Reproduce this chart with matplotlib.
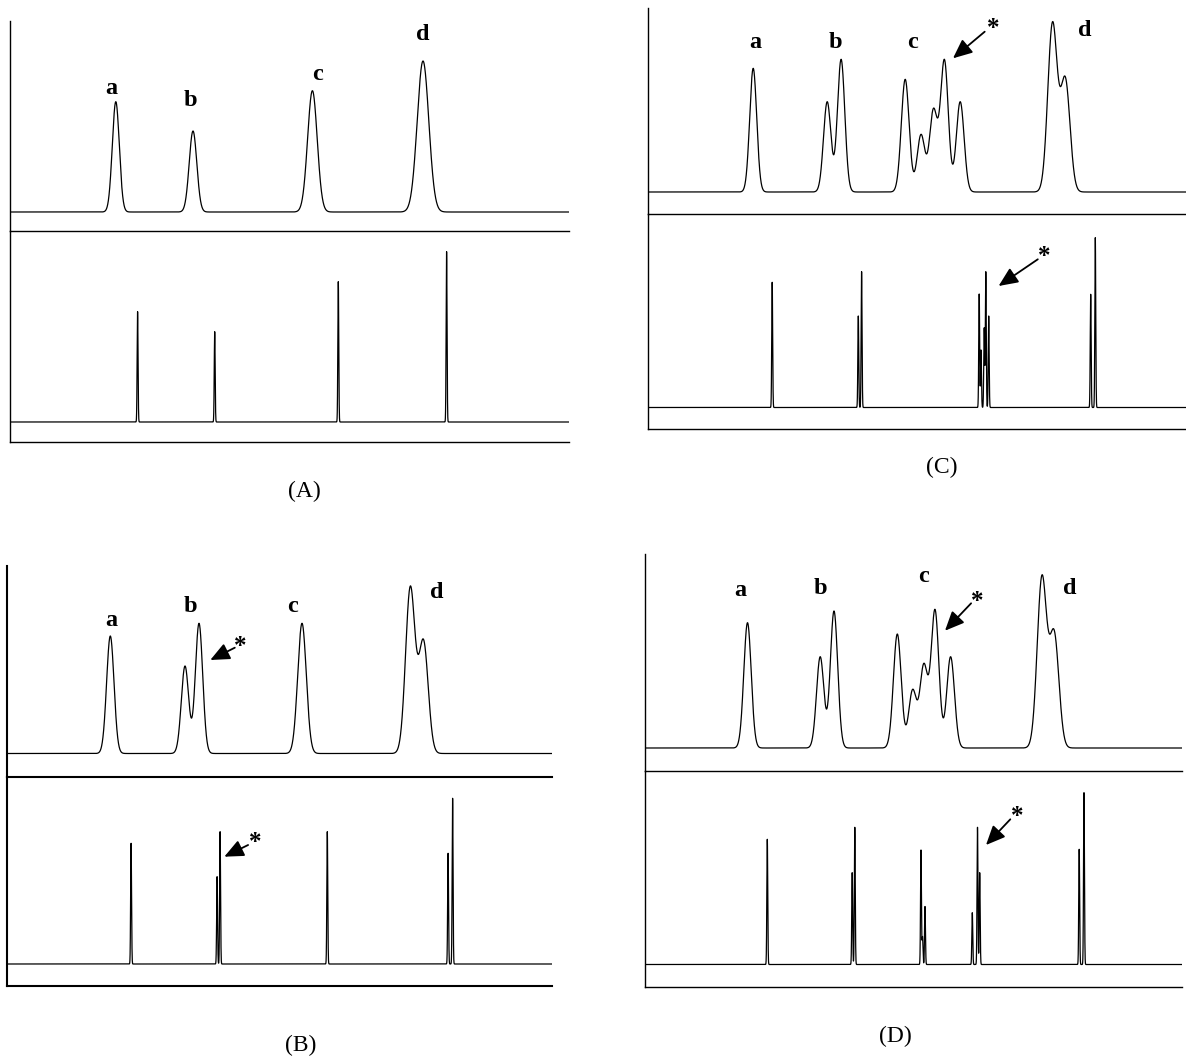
import numpy as np
import matplotlib
matplotlib.use("Agg")
import matplotlib.pyplot as plt

# ---------------- data (x = position from the left axis, y = height above baseline) ------------
# panel A
A_top_pos = [105.8, 183.0, 302.4, 413.0]
A_top_height = [110.3, 81.0, 121.3, 151.0]
A_top_width = [3.5, 3.8, 4.8, 5.8]
A_stick_pos = [127.6, 204.7, 328.3, 436.6]
A_stick_height = [110.3, 90.3, 140.3, 170.3]
A_labels = ['a', 'b', 'c', 'd']
A_label_x = [101.7, 180.0, 307.7, 413.0]
A_label_y = [124.0, 111.0, 137.0, 177.0]

# panel B
B_top_pos = [103.0, 177.7, 191.7, 294.7, 403.0, 416.2]
B_top_height = [117.5, 87.5, 130.2, 130.2, 167.5, 114.2]
B_top_width = [3.7, 3.7, 3.7, 4.3, 4.7, 4.7]
B_stick_pos = [123.8, 209.8, 212.8, 320.0, 440.8, 445.3]
B_stick_height = [120.7, 87.3, 132.3, 132.3, 110.7, 165.7]
B_labels = ['a', 'b', 'c', 'd']
B_label_x = [103.7, 183.4, 285.3, 429.4]
B_label_y = [133.5, 146.8, 146.8, 160.8]

# panel C
C_top_pos = [105.5, 179.5, 193.4, 257.5, 273.3, 285.7, 296.7, 312.5, 404.8, 417.6]
C_top_height = [123.7, 90.3, 132.7, 112.7, 57.7, 83.7, 132.7, 90.3, 170.3, 115.3]
C_top_width = [3.5, 3.7, 3.7, 3.9, 3.9, 3.9, 3.9, 3.9, 4.7, 4.7]
C_stick_pos = [124.5, 210.6, 213.9, 331.5, 333.3, 336.5, 338.1, 341.0, 443.0, 447.6]
C_stick_height = [125.2, 91.5, 135.8, 113.5, 57.5, 79.8, 135.8, 91.5, 113.2, 169.8]
C_labels = ['a', 'b', 'c', 'd']
C_label_x = [107.3, 187.5, 264.5, 437.0]
C_label_y = [149.3, 149.3, 149.3, 162.0]

# panel D
D_top_pos = [102.5, 175.2, 189.0, 252.3, 267.6, 278.8, 290.0, 305.6, 396.9, 409.2]
D_top_height = [125.3, 91.3, 137.0, 114.0, 58.7, 84.7, 138.7, 91.3, 173.0, 118.0]
D_top_width = [3.7, 3.7, 3.7, 3.9, 3.9, 3.9, 3.9, 3.9, 4.7, 4.7]
D_stick_pos = [122.3, 207.2, 209.8, 276.0, 277.5, 280.0, 327.3, 332.5, 334.7, 434.2, 439.0]
D_stick_height = [125.2, 91.8, 137.2, 114.5, 28.0, 58.0, 51.8, 137.2, 91.8, 115.2, 171.8]
D_labels = ['a', 'b', 'c', 'd']
D_label_x = [95.4, 175.2, 278.8, 424.9]
D_label_y = [158.0, 159.0, 171.3, 159.0]

# arrows: (star x, star y, tail x, tail y, head x, head y)
B_top_arrow = [233.2, 110.2, 227.5, 105.8, 203.0, 93.5]
B_bot_arrow = [247.6, 124.0, 240.8, 119.0, 217.0, 107.3]
C_top_arrow = [345.1, 166.0, 337.0, 160.3, 305.3, 133.7]
C_bot_arrow = [396.7, 153.5, 390.1, 148.2, 350.9, 121.5]
D_top_arrow = [332.5, 149.7, 326.1, 144.7, 300.0, 117.3]
D_bot_arrow = [372.7, 151.2, 365.3, 145.2, 341.0, 119.5]

captions = ['(A)', '(B)', '(C)', '(D)']

# ---------------- layout (pixels) -------------------------------------------------------------
FW, FH = 1186, 1057
# left, right, top, divider, bottom, top baseline, bottom baseline, caption x, caption y, line width
layout = {
    'A': (10, 569, 21, 231, 441.5, 212, 422, 304.5, 491, 1.0),
    'B': (7.3, 552, 565.7, 776.5, 985.5, 753.5, 964, 301, 1045, 1.5),
    'C': (647.7, 1186, 8, 214.3, 428.8, 192, 407.5, 941.5, 467, 1.0),
    'D': (645, 1182, 554, 770.5, 986.5, 748, 964.5, 895.5, 1036, 1.0),
}

TICK_W = 0.45
serif = 'Liberation Serif'

fig = plt.figure(figsize=(FW / 100, FH / 100), dpi=100)


def amps_for(pos, height, width):
    # amplitudes so that the summed curve hits the read heights at the peak positions
    pos = np.asarray(pos, float)
    width = np.asarray(width, float)
    G = np.exp(-0.5 * ((pos[:, None] - pos[None, :]) / width[None, :]) ** 2)
    return np.linalg.solve(G, np.asarray(height, float))


def spectrum(x, pos, height, width):
    a = amps_for(pos, height, width)
    y = np.zeros_like(x)
    for p, aa, w in zip(pos, a, width):
        y += aa * np.exp(-0.5 * ((x - p) / w) ** 2)
    return y


def make_ax(l, r, t, b, ylo, yhi, lw):
    ax = fig.add_axes([l / FW, 1 - b / FH, (r - l) / FW, (b - t) / FH])
    ax.set_xlim(0, r - l)
    ax.set_ylim(ylo, yhi)
    ax.set_xticks([])
    ax.set_yticks([])
    ax.patch.set_alpha(0)
    for s in ['top', 'right']:
        ax.spines[s].set_visible(False)
    for s in ['left', 'bottom']:
        ax.spines[s].set_linewidth(lw)
    return ax


def arrow(ax, arr):
    sx, sy, tx, ty, hx, hy = arr
    ax.annotate('', xy=(hx, hy), xytext=(tx, ty),
                arrowprops=dict(arrowstyle='-|>,head_length=0.9,head_width=0.4',
                                mutation_scale=13, lw=1.3, color='black',
                                shrinkA=0, shrinkB=0))
    ax.text(sx, sy - 3, '*', fontsize=18, ha='center', va='center',
            family=serif, fontweight='bold')


panels = {
    'A': (A_top_pos, A_top_height, A_top_width, A_stick_pos, A_stick_height,
          A_labels, A_label_x, A_label_y, None, None),
    'B': (B_top_pos, B_top_height, B_top_width, B_stick_pos, B_stick_height,
          B_labels, B_label_x, B_label_y, B_top_arrow, B_bot_arrow),
    'C': (C_top_pos, C_top_height, C_top_width, C_stick_pos, C_stick_height,
          C_labels, C_label_x, C_label_y, C_top_arrow, C_bot_arrow),
    'D': (D_top_pos, D_top_height, D_top_width, D_stick_pos, D_stick_height,
          D_labels, D_label_x, D_label_y, D_top_arrow, D_bot_arrow),
}

for i, key in enumerate(['A', 'B', 'C', 'D']):
    l, r, t, dv, b, base1, base2, cx, cy, lw = layout[key]
    tp, th, tw, sp, sh, labs, lx, ly, arr1, arr2 = panels[key]
    W = r - l
    x = np.linspace(0, W, 40000)

    # upper trace: broadened spectrum
    ax1 = make_ax(l, r, t, dv, -(dv - base1), base1 - t, lw)
    ax1.plot(x, spectrum(x, tp, th, tw), color='black', lw=0.9)
    for lab, xx, yy in zip(labs, lx, ly):
        ax1.text(xx, yy, lab, fontsize=17.5, fontweight='bold', family=serif,
                 ha='center', va='center')
    if arr1 is not None:
        arrow(ax1, arr1)

    # lower trace: resolved lines
    ax2 = make_ax(l, r, dv, b, -(b - base2), base2 - dv, lw)
    ax2.plot(x, spectrum(x, sp, sh, [TICK_W] * len(sp)), color='black', lw=0.9)
    if arr2 is not None:
        arrow(ax2, arr2)

    fig.text(cx / FW, 1 - cy / FH, captions[i], fontsize=17, family=serif,
             ha='center', va='center')

fig.savefig('out.png', dpi=100)
